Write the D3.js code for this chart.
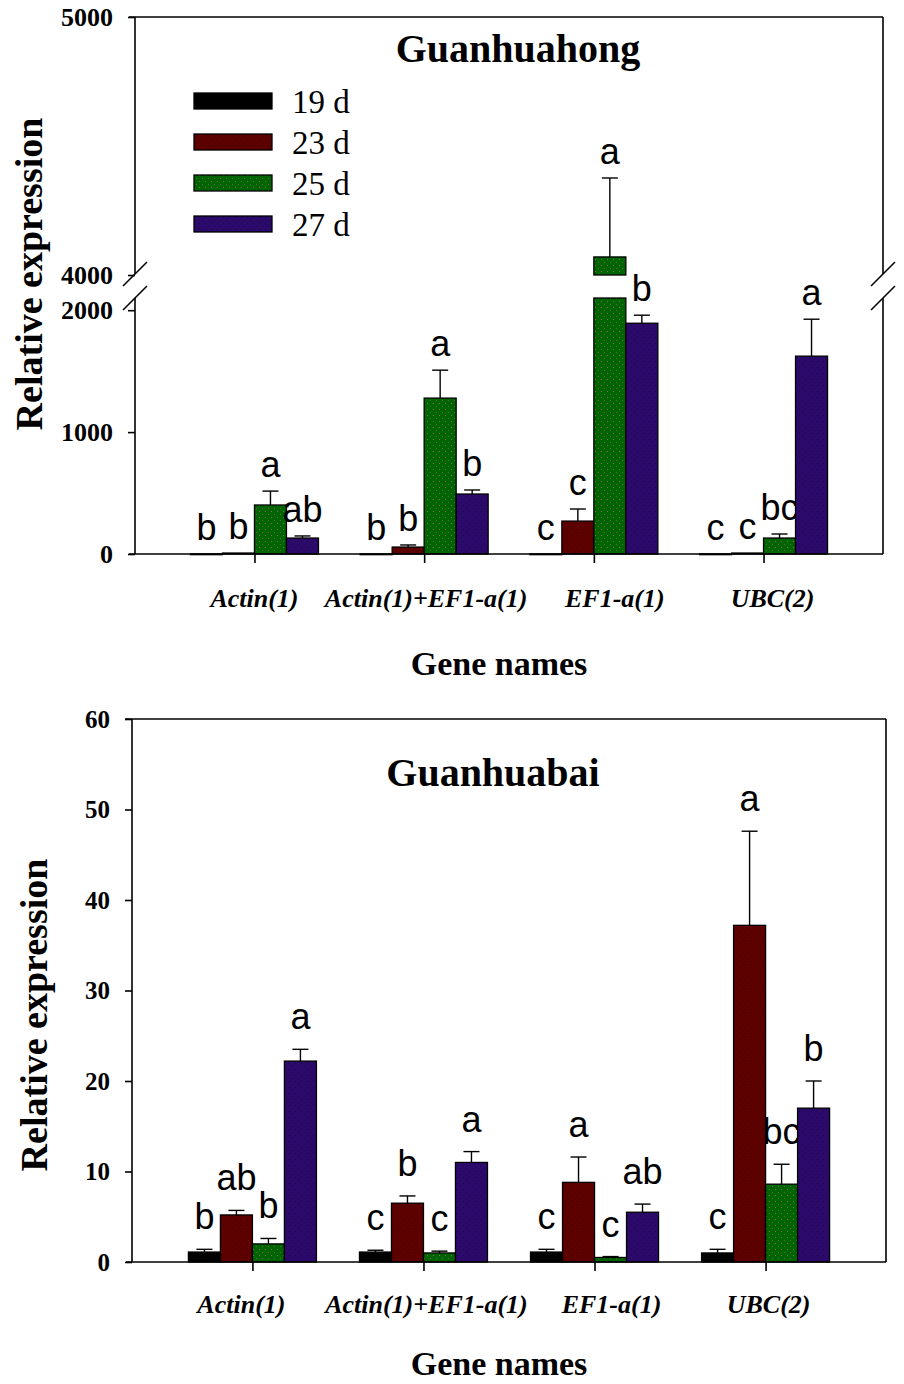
<!DOCTYPE html>
<html><head><meta charset="utf-8">
<script src="https://cdn.jsdelivr.net/npm/d3@7"></script>
<style>
html,body{margin:0;padding:0;background:#fff;}
svg{display:block;}
</style></head>
<body>
<svg id="chart" width="904" height="1384"></svg>
<script>
// ---------------- DATA ----------------
const genes = ["Actin(1)", "Actin(1)+EF1-a(1)", "EF1-a(1)", "UBC(2)"];
const series = ["19 d", "23 d", "25 d", "27 d"];

// Guanhuahong: means and standard errors (per gene, per series)
const hongMean = [[1, 8, 402, 131], [1, 57, 1279, 492], [1, 270, 4070, 1893], [1, 8, 131, 1623]];
const hongErr  = [[0, 0, 114, 17], [0, 17, 229, 33], [0, 99, 306, 66], [0, 0, 33, 303]];
const hongLetters = [["b", "b", "a", "ab"], ["b", "b", "a", "b"], ["c", "c", "a", "b"], ["c", "c", "bc", "a"]];
const hongTicksLow = [0, 1000, 2000];
const hongTicksHigh = [4000, 5000];

// Guanhuabai
const baiMean = [[1.1, 5.2, 2.0, 22.2], [1.1, 6.5, 1.0, 11.0], [1.1, 8.8, 0.5, 5.5], [1.0, 37.2, 8.6, 17.0]];
const baiErr  = [[0.3, 0.5, 0.6, 1.3], [0.2, 0.8, 0.2, 1.2], [0.3, 2.8, 0.1, 0.9], [0.4, 10.4, 2.2, 3.0]];
const baiLetters = [["b", "ab", "b", "a"], ["c", "b", "c", "a"], ["c", "a", "c", "ab"], ["c", "a", "bc", "b"]];
const baiTicks = [0, 10, 20, 30, 40, 50, 60];

// ---------------- STYLE ----------------
const colors = ["#000000", "#5c0000", "#006400", "#2c0a6c"];
const dotColors = ["#000000", "#3a0000", "#b070a0", "#150535"];
const SERIF = "'Liberation Serif','Times New Roman',serif";
const SANS = "'Liberation Sans',Arial,sans-serif";

const svg = d3.select("#chart");
const defs = svg.append("defs");
colors.forEach((c, i) => {
  const p = defs.append("pattern").attr("id", "pat" + i).attr("patternUnits", "userSpaceOnUse")
    .attr("width", 6).attr("height", 6);
  p.append("rect").attr("width", 6).attr("height", 6).attr("fill", c);
  if (i > 0) {
    p.append("rect").attr("x", 1).attr("y", 1).attr("width", 1).attr("height", 1).attr("fill", dotColors[i]).attr("opacity", 0.7);
    p.append("rect").attr("x", 4).attr("y", 4).attr("width", 1).attr("height", 1).attr("fill", dotColors[i]).attr("opacity", 0.5);
  }
});
const fillOf = i => `url(#pat${i})`;

function drawPanel(cfg) {
  const g = svg.append("g");
  const x = d3.scalePoint().domain(genes).range([cfg.left, cfg.right]).padding(0.704);
  const xs = d3.scaleBand().domain(series).range([-64, 64]);
  const low = d3.scaleLinear().domain(cfg.lowDomain).range(cfg.lowRange);
  const high = cfg.highDomain ? d3.scaleLinear().domain(cfg.highDomain).range(cfg.highRange) : null;
  const yv = v => (high && v > cfg.lowDomain[1]) ? high(Math.max(v, cfg.highDomain[0])) : low(v);

  // bars
  genes.forEach((gene, gi) => {
    series.forEach((s, si) => {
      const v = cfg.mean[gi][si];
      const e = cfg.err[gi][si];
      const bx = x(gene) + xs(s);
      const w = xs.bandwidth();
      if (high && v > cfg.lowDomain[1]) {
        g.append("rect").attr("x", bx).attr("y", low(cfg.lowDomain[1])).attr("width", w)
          .attr("height", low(0) - low(cfg.lowDomain[1])).attr("fill", fillOf(si))
          .attr("stroke", "#000").attr("stroke-width", 1.3);
        g.append("rect").attr("x", bx).attr("y", high(v)).attr("width", w)
          .attr("height", high(cfg.highDomain[0]) - high(v)).attr("fill", fillOf(si))
          .attr("stroke", "#000").attr("stroke-width", 1.3);
      } else {
        g.append("rect").attr("x", bx).attr("y", low(v)).attr("width", w)
          .attr("height", Math.max(0.8, low(0) - low(v))).attr("fill", fillOf(si))
          .attr("stroke", "#000").attr("stroke-width", 1.3);
      }
      const cx = bx + w / 2;
      if (e > 0) {
        const y1 = yv(v), y2 = yv(v + e);
        g.append("line").attr("x1", cx).attr("x2", cx).attr("y1", y1).attr("y2", y2)
          .attr("stroke", "#000").attr("stroke-width", 1.4);
        g.append("line").attr("x1", cx - 8).attr("x2", cx + 8).attr("y1", y2).attr("y2", y2)
          .attr("stroke", "#000").attr("stroke-width", 1.4);
      }
      g.append("text").attr("x", cx).attr("y", yv(v + e) - cfg.letterGap)
        .attr("text-anchor", "middle").attr("font-family", SANS).attr("font-size", 36)
        .text(cfg.letters[gi][si]);
    });
  });

  const stroke = el => el.attr("stroke", "#000").attr("stroke-width", 1.6).attr("fill", "none");

  // axes lines (frame)
  const yb = low(0);
  stroke(g.append("line").attr("x1", cfg.left - 6).attr("x2", cfg.right).attr("y1", yb).attr("y2", yb));
  if (high) {
    const yTop = high(cfg.highDomain[1]);
    const yHb = high(cfg.highDomain[0]) - 1;
    const yLt = low(cfg.lowDomain[1]);
    stroke(g.append("line").attr("x1", cfg.left - 6).attr("x2", cfg.right).attr("y1", yTop).attr("y2", yTop));
    [cfg.left, cfg.right].forEach(ax => {
      stroke(g.append("line").attr("x1", ax).attr("x2", ax).attr("y1", yTop).attr("y2", yHb));
      stroke(g.append("line").attr("x1", ax).attr("x2", ax).attr("y1", yLt).attr("y2", yb));
      [yHb, yLt].forEach(yy => {
        stroke(g.append("line").attr("x1", ax - 12).attr("x2", ax + 12).attr("y1", yy + 12).attr("y2", yy - 12));
      });
    });
  } else {
    const yTop = low(cfg.lowDomain[1]);
    stroke(g.append("line").attr("x1", cfg.left - 7).attr("x2", cfg.right).attr("y1", yTop).attr("y2", yTop));
    [cfg.left, cfg.right].forEach(ax => {
      stroke(g.append("line").attr("x1", ax).attr("x2", ax).attr("y1", yTop).attr("y2", yb));
    });
  }

  // y axes via d3.axisLeft
  const tickStyle = ax => {
    ax.select(".domain").remove();
    ax.selectAll(".tick line").attr("stroke", "#000").attr("stroke-width", 1.6);
    ax.selectAll(".tick text").attr("font-family", SERIF).attr("font-weight", "bold")
      .attr("font-size", cfg.tickFont).attr("fill", "#000");
  };
  const axL = g.append("g").attr("transform", `translate(${cfg.left},0)`)
    .call(d3.axisLeft(low).tickValues(cfg.lowTicks).tickSize(7).tickPadding(15).tickFormat(d3.format("d")));
  tickStyle(axL);
  if (high) {
    const axH = g.append("g").attr("transform", `translate(${cfg.left},0)`)
      .call(d3.axisLeft(high).tickValues(cfg.highTicks).tickSize(7).tickPadding(15).tickFormat(d3.format("d")));
    tickStyle(axH);
  }
  // x axis
  const axB = g.append("g").attr("transform", `translate(0,${yb})`)
    .call(d3.axisBottom(x).tickSize(9).tickFormat(""));
  axB.select(".domain").remove();
  axB.selectAll(".tick line").attr("stroke", "#000").attr("stroke-width", 1.6);

  genes.forEach((gene, gi) => {
    g.append("text").attr("x", x(gene) + cfg.labelNudge[gi]).attr("y", cfg.xLabelY)
      .attr("text-anchor", "middle").attr("font-family", SERIF).attr("font-weight", "bold")
      .attr("font-style", "italic").attr("font-size", 26).text(gene);
  });

  g.append("text").attr("x", cfg.titleX).attr("y", cfg.titleY).attr("text-anchor", "middle")
    .attr("font-family", SERIF).attr("font-weight", "bold").attr("font-size", 40).text(cfg.title);
  g.append("text").attr("x", 499).attr("y", cfg.xTitleY).attr("text-anchor", "middle")
    .attr("font-family", SERIF).attr("font-weight", "bold").attr("font-size", 34).text("Gene names");
  g.append("text").attr("transform", `translate(${cfg.yTitleX},${cfg.yTitleY}) rotate(-90)`)
    .attr("text-anchor", "middle").attr("font-family", SERIF).attr("font-weight", "bold")
    .attr("font-size", 38).text("Relative expression");

  if (cfg.legend) {
    series.forEach((s, si) => {
      const cy = 101 + si * 41;
      g.append("rect").attr("x", 194).attr("y", cy - 8).attr("width", 78).attr("height", 16)
        .attr("fill", fillOf(si)).attr("stroke", "#000").attr("stroke-width", 1.3);
      g.append("text").attr("x", 292).attr("y", cy + 12).attr("font-family", SERIF)
        .attr("font-size", 33).text(s);
    });
  }
}

drawPanel({
  left: 135, right: 883,
  lowDomain: [0, 2100], lowRange: [554, 298],
  highDomain: [4000, 5000], highRange: [275, 17],
  lowTicks: hongTicksLow, highTicks: hongTicksHigh,
  mean: hongMean, err: hongErr, letters: hongLetters,
  letterGap: 14, tickFont: 26,
  labelNudge: [0, 2, 21, 9], xLabelY: 607,
  title: "Guanhuahong", titleX: 518, titleY: 62,
  xTitleY: 675, yTitleX: 42, yTitleY: 274, legend: true
});

drawPanel({
  left: 132, right: 886,
  lowDomain: [0, 60], lowRange: [1262, 719],
  lowTicks: baiTicks,
  mean: baiMean, err: baiErr, letters: baiLetters,
  letterGap: 20, tickFont: 25,
  labelNudge: [-11, 3, 17, 3], xLabelY: 1313,
  title: "Guanhuabai", titleX: 493, titleY: 786,
  xTitleY: 1375, yTitleX: 47, yTitleY: 1015, legend: false
});
</script>
</body></html>
